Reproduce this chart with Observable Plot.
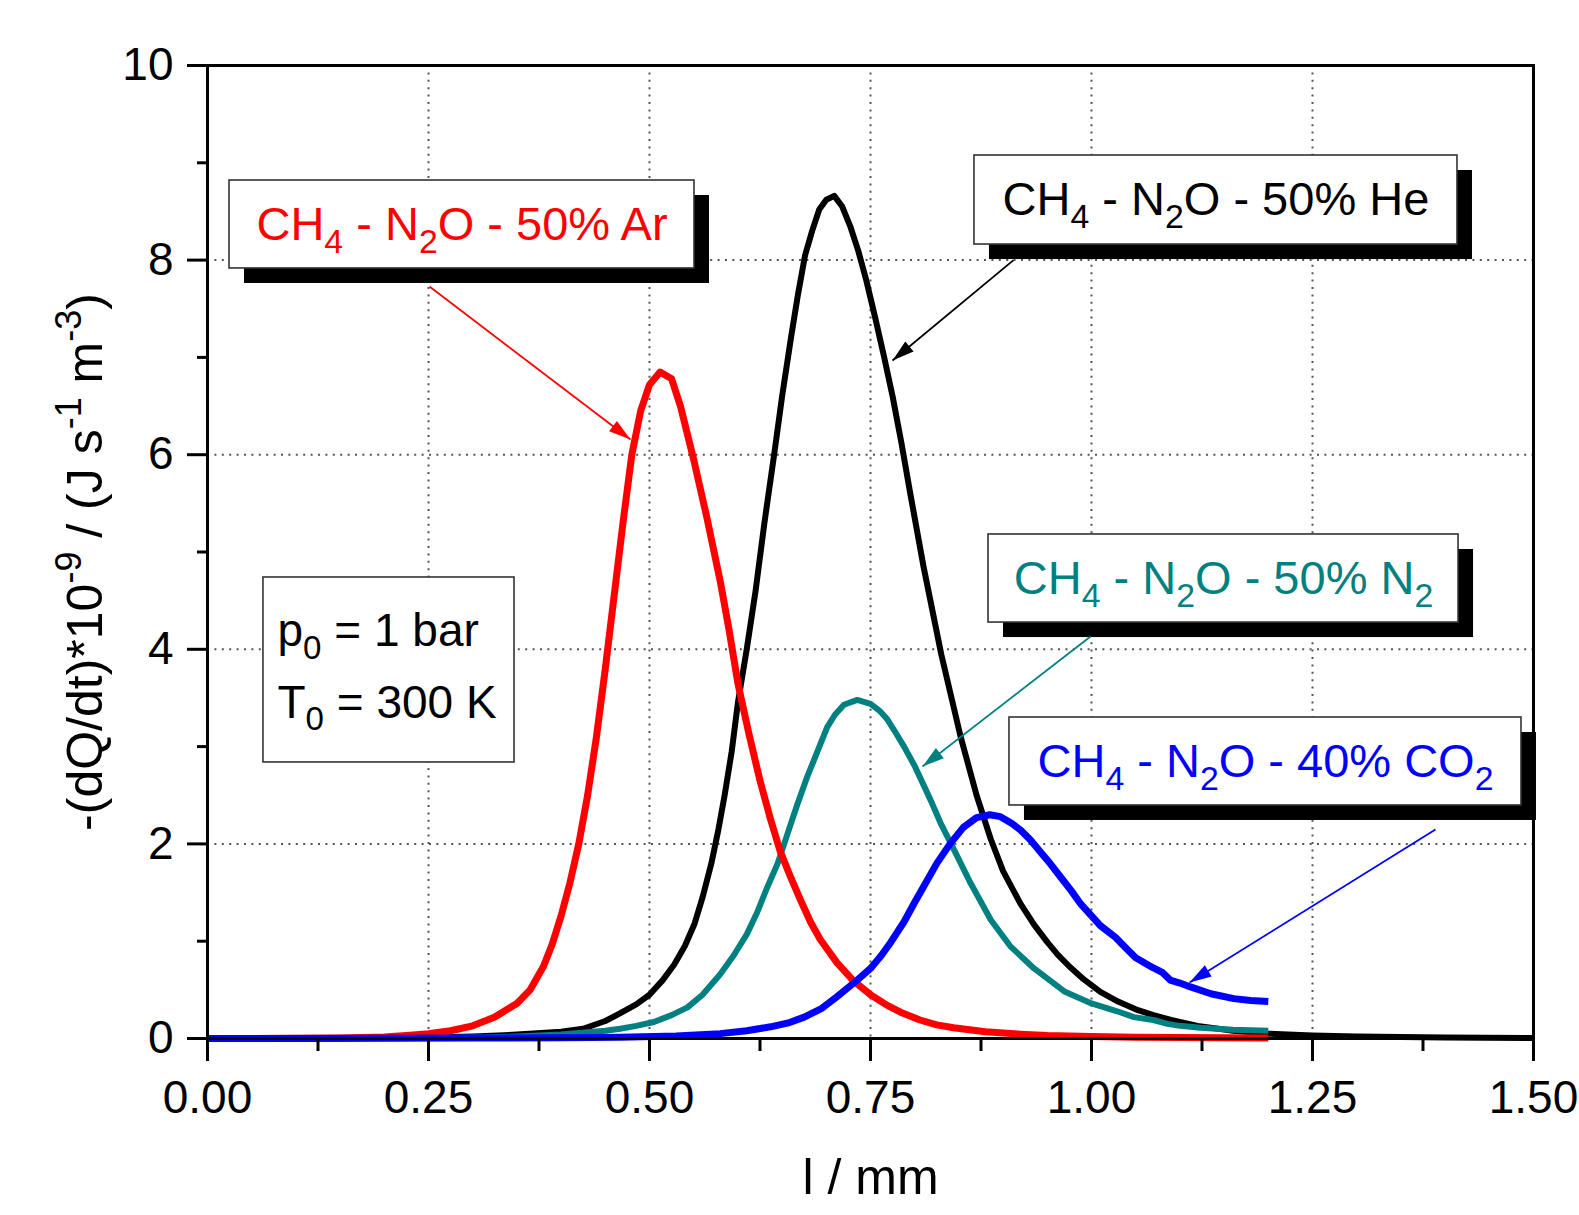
<!DOCTYPE html>
<html>
<head>
<meta charset="utf-8">
<script src="https://cdn.jsdelivr.net/npm/d3@7"></script>
<script src="https://cdn.jsdelivr.net/npm/@observablehq/plot@0.6"></script>
<style>
html, body { margin: 0; padding: 0; background: #fff; }
#chart svg { display: block; }
</style>
</head>
<body>
<div id="chart"></div>
<script>
// ---- data ----
const arX = [0, 0.1, 0.15, 0.2, 0.225, 0.25, 0.275, 0.3, 0.325, 0.35, 0.365, 0.38, 0.39, 0.4, 0.41, 0.42, 0.43, 0.44, 0.45, 0.46, 0.47, 0.48, 0.49, 0.5, 0.512, 0.525, 0.535, 0.55, 0.565, 0.58, 0.59, 0.6, 0.612, 0.625, 0.637, 0.648, 0.66, 0.671, 0.682, 0.693, 0.712, 0.731, 0.75, 0.769, 0.784, 0.806, 0.825, 0.844, 0.88, 0.919, 0.95, 1.0, 1.05, 1.1, 1.15, 1.2];
const arY = [0, 0.002, 0.006, 0.015, 0.03, 0.05, 0.08, 0.13, 0.22, 0.36, 0.5, 0.74, 0.97, 1.26, 1.6, 2.0, 2.5, 3.1, 3.8, 4.55, 5.3, 6.0, 6.45, 6.72, 6.85, 6.78, 6.5, 5.95, 5.35, 4.7, 4.2, 3.65, 3.15, 2.65, 2.25, 1.92, 1.65, 1.42, 1.2, 1.02, 0.78, 0.59, 0.45, 0.34, 0.27, 0.19, 0.14, 0.11, 0.07, 0.045, 0.03, 0.02, 0.014, 0.01, 0.007, 0.005];

const heX = [0, 0.1, 0.2, 0.25, 0.3, 0.35, 0.4, 0.425, 0.45, 0.467, 0.485, 0.5, 0.515, 0.528, 0.54, 0.551, 0.56, 0.57, 0.578, 0.585, 0.593, 0.6, 0.61, 0.62, 0.63, 0.641, 0.65, 0.66, 0.668, 0.676, 0.684, 0.692, 0.7, 0.709, 0.718, 0.727, 0.736, 0.745, 0.755, 0.765, 0.775, 0.785, 0.795, 0.81, 0.83, 0.852, 0.87, 0.886, 0.9, 0.92, 0.935, 0.95, 0.962, 0.975, 0.991, 1.01, 1.03, 1.05, 1.07, 1.09, 1.12, 1.16, 1.2, 1.25, 1.3, 1.4, 1.5];
const heY = [0, 0.001, 0.005, 0.01, 0.02, 0.04, 0.07, 0.1, 0.18, 0.26, 0.35, 0.45, 0.6, 0.76, 0.95, 1.18, 1.45, 1.8, 2.15, 2.5, 2.95, 3.45, 4.0, 4.6, 5.3, 6.0, 6.6, 7.2, 7.65, 8.05, 8.3, 8.52, 8.62, 8.66, 8.55, 8.35, 8.1, 7.8, 7.42, 7.02, 6.6, 6.12, 5.6, 4.85, 3.95, 3.1, 2.5, 2.05, 1.72, 1.38, 1.17, 0.99, 0.86, 0.74, 0.61, 0.48, 0.38, 0.3, 0.24, 0.19, 0.13, 0.08, 0.05, 0.03, 0.02, 0.01, 0.005];

const n2X = [0, 0.2, 0.3, 0.35, 0.4, 0.45, 0.467, 0.485, 0.505, 0.525, 0.543, 0.56, 0.58, 0.595, 0.61, 0.622, 0.633, 0.645, 0.656, 0.667, 0.678, 0.69, 0.701, 0.71, 0.72, 0.735, 0.75, 0.76, 0.769, 0.778, 0.788, 0.8, 0.818, 0.83, 0.845, 0.863, 0.886, 0.908, 0.935, 0.97, 1.0, 1.029, 1.048, 1.07, 1.086, 1.1, 1.123, 1.16, 1.2];
const n2Y = [0, 0.002, 0.01, 0.02, 0.04, 0.08, 0.1, 0.13, 0.17, 0.24, 0.32, 0.45, 0.66, 0.85, 1.07, 1.3, 1.55, 1.8, 2.1, 2.4, 2.68, 2.95, 3.2, 3.33, 3.43, 3.48, 3.44, 3.37, 3.28, 3.15, 3.0, 2.8, 2.45, 2.2, 1.93, 1.6, 1.22, 0.95, 0.72, 0.48, 0.36, 0.28, 0.22, 0.19, 0.15, 0.13, 0.11, 0.09, 0.08];

const co2X = [0, 0.2, 0.3, 0.4, 0.467, 0.53, 0.58, 0.61, 0.637, 0.657, 0.675, 0.695, 0.712, 0.735, 0.75, 0.762, 0.773, 0.788, 0.8, 0.81, 0.825, 0.84, 0.855, 0.87, 0.885, 0.897, 0.91, 0.92, 0.931, 0.942, 0.953, 0.965, 0.977, 0.988, 1.0, 1.01, 1.027, 1.04, 1.05, 1.069, 1.08, 1.089, 1.1, 1.112, 1.135, 1.161, 1.18, 1.2];
const co2Y = [0, 0.002, 0.005, 0.008, 0.012, 0.025, 0.05, 0.08, 0.12, 0.16, 0.22, 0.31, 0.43, 0.6, 0.72, 0.85, 0.99, 1.2, 1.4, 1.56, 1.8, 2.0, 2.17, 2.27, 2.3, 2.28, 2.21, 2.14, 2.04, 1.92, 1.8, 1.66, 1.52, 1.38, 1.26, 1.16, 1.04, 0.92, 0.83, 0.73, 0.68, 0.6, 0.57, 0.53, 0.46, 0.41, 0.39, 0.38];

const seriesLabels = {
  Ar: "CH_{4} - N_{2}O - 50% Ar",
  He: "CH_{4} - N_{2}O - 50% He",
  N2: "CH_{4} - N_{2}O - 50% N_{2}",
  CO2: "CH_{4} - N_{2}O - 40% CO_{2}"
};
const conditionLines = ["p_{0} = 1 bar", "T_{0} = 300 K"];

const xMajorTicks = [0, 0.25, 0.5, 0.75, 1, 1.25, 1.5];
const xMinorTicks = [0.125, 0.375, 0.625, 0.875, 1.125, 1.375];
const yMajorTicks = [0, 2, 4, 6, 8, 10];
const yMinorTicks = [1, 3, 5, 7, 9];
const xGridTicks = [0.25, 0.5, 0.75, 1, 1.25];
const yGridTicks = [2, 4, 6, 8];
const xTitle = "l / mm";
const yTitle = "-(dQ/dt)*10^{-9} / (J s^{-1} m^{-3})";

// ---- styling / layout (kept apart from the data) ----
const series = [
  {key: "He", xs: heX, ys: heY, color: "#000000", width: 6},
  {key: "N2", xs: n2X, ys: n2Y, color: "#008080", width: 6},
  {key: "Ar", xs: arX, ys: arY, color: "#ff0000", width: 7},
  {key: "CO2", xs: co2X, ys: co2Y, color: "#0000ff", width: 7}
];
// callout boxes and arrows, in data units
const callouts = [
  {key: "Ar", color: "#ff0000", box: [0.0249, 0.5509, 7.914, 8.818], from: [0.2511, 7.729], to: [0.4785, 6.156]},
  {key: "He", color: "#000000", box: [0.8676, 1.4140, 8.160, 9.075], from: [0.9118, 8.0], to: [0.7749, 6.968]},
  {key: "N2", color: "#008080", box: [0.8835, 1.4152, 4.275, 5.180], from: [0.9989, 4.132], to: [0.8088, 2.795]},
  {key: "CO2", color: "#0000ff", box: [0.9072, 1.4864, 2.395, 3.299], from: [1.3891, 2.148], to: [1.1109, 0.5755]}
];
const condBox = {box: [0.0633, 0.3473, 2.837, 4.738], textX: 0.0792, lineY: [4.029, 3.299]};

const FONT = "'Liberation Sans', Arial, Helvetica, sans-serif";

const lineMarks = series.map(s =>
  Plot.line(s.xs.map((x, i) => ({x, y: s.ys[i]})), {
    x: "x", y: "y", stroke: s.color, strokeWidth: s.width,
    strokeLinecap: "butt", strokeLinejoin: "round"
  })
);

const chart = Plot.plot({
  width: 1579,
  height: 1215,
  marginLeft: 207,
  marginRight: 46,
  marginTop: 65,
  marginBottom: 177,
  x: {domain: [0, 1.5], label: null},
  y: {domain: [0, 10], label: null},
  color: {type: "identity"},
  style: {fontFamily: FONT, fontSize: "46px", background: "#fff", color: "#000", overflow: "visible"},
  marks: [
    Plot.gridX({ticks: xGridTicks, stroke: "#555", strokeOpacity: 1, strokeWidth: 2, strokeDasharray: "2,5.4"}),
    Plot.gridY({ticks: yGridTicks, stroke: "#555", strokeOpacity: 1, strokeWidth: 2, strokeDasharray: "2,5.4"}),
    // conditions box
    Plot.rect([condBox], {x1: d => d.box[0], x2: d => d.box[1], y1: d => d.box[2], y2: d => d.box[3], fill: "#fff", stroke: "#333", strokeWidth: 1.6}),
    Plot.text(conditionLines, {x: () => condBox.textX, y: (d, i) => condBox.lineY[i], text: d => d, textAnchor: "start", lineAnchor: "bottom", fontSize: 46, fill: "#000"}),
    ...lineMarks,
    // callout shadows and boxes
    Plot.rect(callouts, {x1: d => d.box[0], x2: d => d.box[1], y1: d => d.box[2], y2: d => d.box[3], fill: "#000", dx: 15, dy: 15}),
    Plot.rect(callouts, {x1: d => d.box[0], x2: d => d.box[1], y1: d => d.box[2], y2: d => d.box[3], fill: "#fff", stroke: "#333", strokeWidth: 1.6}),
    Plot.text(callouts, {x: d => (d.box[0] + d.box[1]) / 2, y: d => (d.box[2] + d.box[3]) / 2, text: d => seriesLabels[d.key], fill: d => d.color, fontSize: 47, textAnchor: "middle", lineAnchor: "middle"}),
    Plot.link(callouts, {x1: d => d.from[0], y1: d => d.from[1], x2: d => d.to[0], y2: d => d.to[1], stroke: d => d.color, strokeWidth: 1.8}),
    Plot.frame({stroke: "#000", strokeWidth: 3}),
    Plot.axisX({ticks: xMajorTicks, tickFormat: d3.format(".2f"), tickSize: 23, tickPadding: 19, strokeWidth: 3, fontSize: 46, label: null}),
    Plot.axisX({ticks: xMinorTicks, tickFormat: () => "", tickSize: 13, strokeWidth: 3, label: null}),
    Plot.axisY({ticks: yMajorTicks, tickFormat: d3.format("d"), tickSize: 20, tickPadding: 14, strokeWidth: 3, fontSize: 46, label: null}),
    Plot.axisY({ticks: yMinorTicks, tickFormat: () => "", tickSize: 10, strokeWidth: 3, label: null}),
    Plot.text([xTitle], {frameAnchor: "bottom", text: d => d, dy: 155, lineAnchor: "bottom", fontSize: 50, fill: "#000"}),
    Plot.text([yTitle], {frameAnchor: "left", text: d => d, rotate: -90, dx: -122, dy: 10, lineAnchor: "middle", textAnchor: "middle", fontSize: 50, fill: "#000"})
  ]
});

document.getElementById("chart").appendChild(chart);

// ---- rich text: subscripts / superscripts ----
const SVGNS = "http://www.w3.org/2000/svg";
chart.querySelectorAll("text").forEach(t => {
  const s = t.textContent;
  if (!/[_^]\{/.test(s)) return;
  const fs = parseFloat(getComputedStyle(t).fontSize) || 46;
  const parts = [];
  const re = /([_^])\{([^}]*)\}/g;
  let last = 0, m;
  while ((m = re.exec(s))) {
    if (m.index > last) parts.push({t: "n", s: s.slice(last, m.index)});
    parts.push({t: m[1] === "_" ? "sub" : "sup", s: m[2]});
    last = re.lastIndex;
  }
  if (last < s.length) parts.push({t: "n", s: s.slice(last)});
  t.textContent = "";
  t.setAttribute("xml:space", "preserve");
  let cur = 0;
  for (const p of parts) {
    const off = p.t === "sub" ? 0.28 * fs : p.t === "sup" ? -0.42 * fs : 0;
    const ts = document.createElementNS(SVGNS, "tspan");
    if (off !== cur) ts.setAttribute("dy", (off - cur).toFixed(2));
    if (p.t !== "n") ts.setAttribute("font-size", (0.72 * fs).toFixed(1));
    ts.textContent = p.s;
    t.appendChild(ts);
    cur = off;
  }
});

// ---- filled arrowheads on callout links ----
const defs = d3.select(chart).append("defs");
d3.select(chart).selectAll('g[aria-label="link"] path').each(function (_, i) {
  const color = this.getAttribute("stroke") || this.parentNode.getAttribute("stroke") || "#000";
  const id = "callout-head-" + i;
  defs.append("marker")
    .attr("id", id)
    .attr("viewBox", "-24 -8 26 16")
    .attr("refX", 0).attr("refY", 0)
    .attr("markerWidth", 26).attr("markerHeight", 16)
    .attr("markerUnits", "userSpaceOnUse")
    .attr("orient", "auto")
    .append("path")
    .attr("d", "M0,0L-22,-6.5L-22,6.5Z")
    .attr("fill", color)
    .attr("stroke", "none");
  this.setAttribute("marker-end", `url(#${id})`);
});
</script>
</body>
</html>
